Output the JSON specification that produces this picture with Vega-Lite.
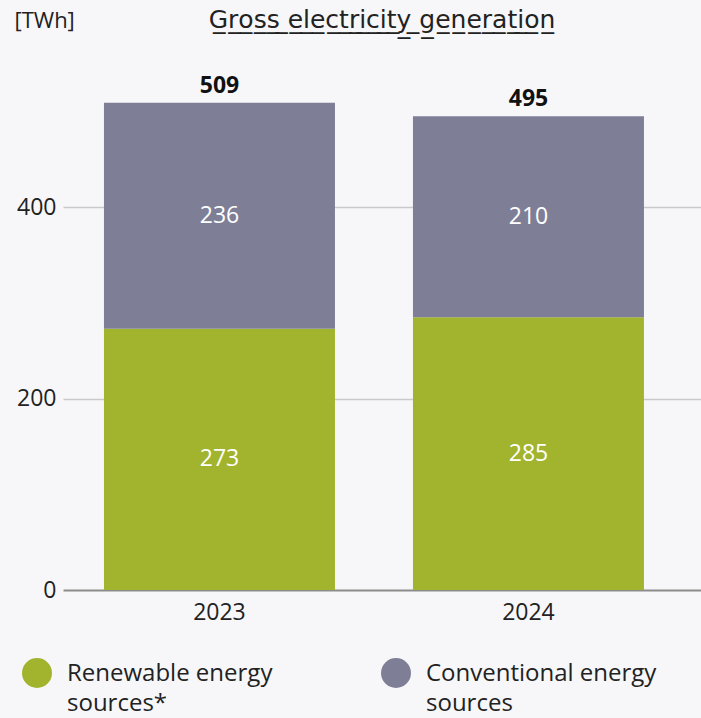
{
  "$schema": "https://vega.github.io/schema/vega-lite/v6.json",
  "width": 638,
  "height": 536,
  "autosize": {"type": "none"},
  "padding": {"left": 63, "top": 54, "right": 0, "bottom": 128},
  "background": "#f7f7f9",
  "config": {"view": {"stroke": null}, "font": "Open Sans"},
  "title": {
    "text": "G\u0332r\u0332o\u0332s\u0332s\u0332 \u0332e\u0332l\u0332e\u0332c\u0332t\u0332r\u0332i\u0332c\u0332i\u0332t\u0332y\u0332 \u0332g\u0332e\u0332n\u0332e\u0332r\u0332a\u0332t\u0332i\u0332o\u0332n\u0332",
    "anchor": "middle",
    "frame": "group",
    "font": "DejaVu Sans",
    "fontSize": 25,
    "fontWeight": "normal",
    "color": "#222222",
    "offset": -24
  },
  "data": {
    "values": [
      {"year": "2023", "source": "Renewable energy sources*", "value": 273},
      {"year": "2023", "source": "Conventional energy sources", "value": 236},
      {"year": "2024", "source": "Renewable energy sources*", "value": 285},
      {"year": "2024", "source": "Conventional energy sources", "value": 210}
    ]
  },
  "transform": [
    {"stack": "value", "groupby": ["year"], "sort": [{"field": "source", "order": "descending"}], "as": ["v0", "v1"]},
    {"calculate": "(datum.v0 + datum.v1) / 2", "as": "mid"}
  ],
  "encoding": {
    "x": {
      "field": "year",
      "type": "nominal",
      "scale": {"paddingInner": 0.2524, "paddingOuter": 0.1586, "align": 0.418},
      "axis": {
        "title": null,
        "domain": false,
        "ticks": false,
        "labelAngle": 0,
        "labelPadding": 11,
        "labelFontSize": 23,
        "labelColor": "#222222"
      }
    }
  },
  "layer": [
    {
      "mark": {"type": "bar"},
      "encoding": {
        "y": {
          "field": "v1",
          "type": "quantitative",
          "scale": {"domain": [0, 560], "nice": false},
          "axis": {
            "values": [0, 200, 400],
            "domain": false,
            "ticks": false,
            "labelPadding": 7,
            "labelFontSize": 23,
            "labelColor": "#222222",
            "gridColor": {"condition": {"test": "datum.value === 0", "value": "#8c8c8c"}, "value": "#c9c9cc"},
            "gridWidth": {"condition": {"test": "datum.value === 0", "value": 2}, "value": 1.3},
            "title": "[TWh]",
            "titleAngle": 0,
            "titleAlign": "left",
            "titleBaseline": "middle",
            "titleX": -49,
            "titleY": -34,
            "titleFontSize": 22,
            "titleFontWeight": "normal",
            "titleColor": "#222222"
          }
        },
        "y2": {"field": "v0"},
        "color": {
          "field": "source",
          "type": "nominal",
          "scale": {
            "domain": ["Renewable energy sources*", "Conventional energy sources"],
            "range": ["#a2b42e", "#7e7f97"]
          },
          "legend": {
            "title": null,
            "orient": "none",
            "legendX": -41,
            "legendY": 604,
            "direction": "horizontal",
            "columns": 2,
            "padding": 0,
            "symbolType": "circle",
            "symbolSize": 900,
            "symbolStrokeWidth": 0,
            "symbolOpacity": 1,
            "labelFontSize": 24,
            "labelColor": "#222222",
            "labelLimit": 400,
            "labelOffset": 15,
            "labelBaseline": "top",
            "columnPadding": 108,
            "labelExpr": "datum.label == 'Renewable energy sources*' ? ['Renewable energy', 'sources*'] : ['Conventional energy', 'sources']",
            "encode": {
              "labels": {"update": {"dy": {"value": -11}, "lineHeight": {"value": 30}}}
            }
          }
        }
      }
    },
    {
      "mark": {"type": "text", "color": "white", "fontSize": 23, "baseline": "middle"},
      "encoding": {
        "y": {"field": "mid", "type": "quantitative"},
        "text": {"field": "value", "type": "quantitative"}
      }
    },
    {
      "mark": {"type": "text", "color": "#111111", "fontSize": 23, "fontWeight": "bold", "baseline": "alphabetic", "dy": -10},
      "encoding": {
        "y": {"aggregate": "sum", "field": "value", "type": "quantitative"},
        "text": {"aggregate": "sum", "field": "value", "type": "quantitative"}
      }
    }
  ]
}
